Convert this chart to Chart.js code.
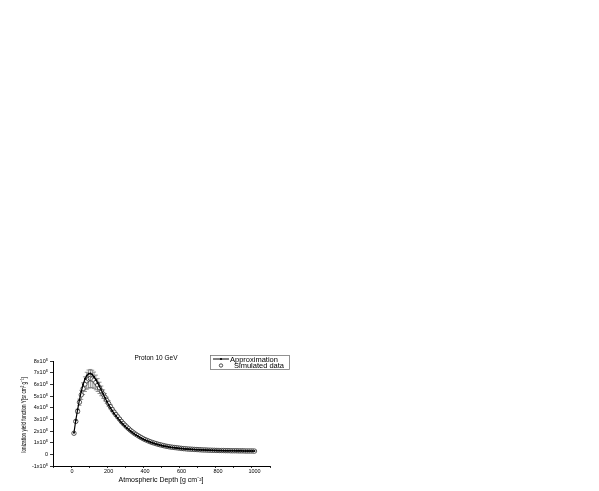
<!DOCTYPE html>
<html><head><meta charset="utf-8">
<script src="https://cdn.jsdelivr.net/npm/chart.js@4/dist/chart.umd.min.js"></script>
<style>html,body{margin:0;padding:0;background:#fff;}#wrap{position:absolute;left:0;top:0;width:599px;height:491px;}</style>
</head><body><div id="wrap"><canvas id="c" width="599" height="491"></canvas></div>
<script>
// Atmospheric depth [g cm^-2]
const depth = [10,20,30,40,50,60,70,80,90,100,110,120,130,140,150,160,170,180,190,200,
210,220,230,240,250,260,270,280,290,300,310,320,330,340,350,360,370,380,390,400,
410,420,430,440,450,460,470,480,490,500,510,520,530,540,550,560,570,580,590,600,
610,620,630,640,650,660,670,680,690,700,710,720,730,740,750,760,770,780,790,800,
810,820,830,840,850,860,870,880,890,900,910,920,930,940,950,960,970,980,990,1000];
// Approximation (units of 1e5)
const approx = [1.70,2.80,3.75,4.60,5.35,5.95,6.45,6.75,6.92,6.95,
6.85,6.65,6.40,6.10,5.80,5.45,5.12,4.80,4.48,4.18,
3.90,3.65,3.40,3.20,3.00,2.80,2.60,2.43,2.27,2.12,
1.98,1.85,1.72,1.60,1.50,1.40,1.30,1.21,1.13,1.05,
0.98,0.92,0.86,0.80,0.75,0.70,0.65,0.61,0.57,0.53,
0.50,0.47,0.44,0.41,0.39,0.37,0.35,0.33,0.31,0.29,
0.28,0.26,0.25,0.24,0.23,0.22,0.21,0.20,0.19,0.18,
0.17,0.17,0.16,0.15,0.15,0.14,0.14,0.13,0.13,0.12,
0.12,0.12,0.11,0.11,0.11,0.10,0.10,0.10,0.10,0.09,
0.09,0.09,0.09,0.08,0.08,0.08,0.08,0.08,0.07,0.07];
// Simulated data (units of 1e5)
const simulated = [1.65,2.70,3.60,4.40,5.05,5.60,6.00,6.30,6.45,6.50,
6.45,6.35,6.15,5.92,5.67,5.40,5.12,4.84,4.56,4.28,
4.00,3.75,3.52,3.30,3.10,2.90,2.70,2.52,2.36,2.20,
2.05,1.91,1.78,1.66,1.55,1.45,1.35,1.26,1.17,1.09,
1.02,0.95,0.89,0.83,0.78,0.73,0.68,0.64,0.60,0.56,
0.52,0.49,0.46,0.43,0.41,0.39,0.37,0.35,0.33,0.31,
0.29,0.28,0.26,0.25,0.24,0.23,0.22,0.21,0.20,0.19,
0.18,0.17,0.17,0.16,0.15,0.15,0.14,0.14,0.13,0.13,
0.12,0.12,0.12,0.11,0.11,0.11,0.10,0.10,0.10,0.10,
0.09,0.09,0.09,0.09,0.08,0.08,0.08,0.08,0.08,0.07];
// Error of simulated data (units of 1e5)
const simError = [0.05,0.10,0.18,0.28,0.40,0.52,0.65,0.75,0.80,0.80,
0.78,0.72,0.65,0.57,0.50,0.43,0.37,0.32,0.28,0.25,
0.20,0.18,0.16,0.15,0.14,0.12,0.11,0.10,0.09,0.08,
0.07,0.07,0.06,0.06,0.05,0.05,0.05,0.04,0.04,0.04,
0.04,0.03,0.03,0.03,0.03,0.03,0.03,0.02,0.02,0.02,
0.02,0.02,0.02,0.02,0.02,0.02,0.02,0.02,0.02,0.02,
0.02,0.02,0.02,0.02,0.02,0.02,0.02,0.02,0.02,0.02,
0.02,0.02,0.02,0.02,0.02,0.02,0.02,0.02,0.02,0.02,
0.02,0.02,0.02,0.02,0.02,0.02,0.02,0.02,0.02,0.02,
0.02,0.02,0.02,0.02,0.02,0.02,0.02,0.02,0.02,0.02];
const yTickLabels = {'-1':'-1x10⁵','0':'0','1':'1x10⁵','2':'2x10⁵','3':'3x10⁵','4':'4x10⁵','5':'5x10⁵','6':'6x10⁵','7':'7x10⁵','8':'8x10⁵'};
const xLabelTicks = [0,200,400,600,800,1000];
const titleText = 'Proton 10 GeV';
const xTitle = 'Atmospheric Depth [g cm⁻²]';
const yTitle = 'Ionization yield function Y[sr cm² g⁻¹]';
const seriesNames = ['Approximation','Simulated data'];

const SCALE = 1e5;
const approxPts = depth.map((d,i)=>({x:d,y:approx[i]*SCALE}));
const simPts = depth.map((d,i)=>({x:d,y:simulated[i]*SCALE}));
const FONT = '"Liberation Sans", Arial, sans-serif';

const errorBars = {
  id:'errorBars',
  beforeDatasetsDraw(chart){
    const ctx=chart.ctx, xs=chart.scales.x, ys=chart.scales.y;
    ctx.save();
    ctx.strokeStyle='#777'; ctx.lineWidth=0.8;
    depth.forEach((d,i)=>{
      const px=xs.getPixelForValue(d);
      const lo=ys.getPixelForValue((simulated[i]-simError[i])*SCALE);
      const hi=ys.getPixelForValue((simulated[i]+simError[i])*SCALE);
      ctx.beginPath();
      ctx.moveTo(px,lo);ctx.lineTo(px,hi);
      ctx.moveTo(px-2,lo);ctx.lineTo(px+2,lo);
      ctx.moveTo(px-2,hi);ctx.lineTo(px+2,hi);
      ctx.stroke();
    });
    ctx.restore();
  }
};

const decorations = {
  id:'decorations',
  afterDraw(chart){
    const ctx=chart.ctx, xs=chart.scales.x;
    ctx.save();
    ctx.fillStyle='#000';
    // x tick labels
    ctx.font='5.5px '+FONT; ctx.textAlign='center'; ctx.textBaseline='top';
    xLabelTicks.forEach(v=>{ctx.fillText(String(v),xs.getPixelForValue(v),xs.top+3);});
    ctx.textBaseline='middle';
    // title
    ctx.font='6.5px '+FONT;
    ctx.fillText(titleText,156,358);
    // x title
    ctx.font='7px '+FONT;
    ctx.fillText(xTitle,161,480);
    // y title (condensed)
    ctx.save();
    ctx.translate(23.5,415);
    ctx.rotate(-Math.PI/2);
    ctx.scale(0.62,1);
    ctx.font='7.5px '+FONT;
    ctx.fillText(yTitle,0,0);
    ctx.restore();
    // legend
    ctx.strokeStyle='#777'; ctx.lineWidth=0.8;
    ctx.strokeRect(210.5,355.5,79,14);
    ctx.strokeStyle='#000'; ctx.lineWidth=1;
    ctx.beginPath();ctx.moveTo(213,359);ctx.lineTo(229,359);ctx.stroke();
    ctx.beginPath();ctx.arc(221,359,1.1,0,Math.PI*2);ctx.fill();
    ctx.lineWidth=0.7;
    ctx.beginPath();ctx.arc(221,365.5,1.7,0,Math.PI*2);ctx.stroke();
    ctx.font='7.5px '+FONT; ctx.textAlign='left';
    ctx.fillText(seriesNames[0],230,359.5);
    ctx.fillText(seriesNames[1],234,366);
    ctx.restore();
  }
};

new Chart(document.getElementById('c'),{
  type:'scatter',
  data:{datasets:[
    {label:seriesNames[0],data:approxPts,showLine:true,borderColor:'#000',backgroundColor:'#000',borderWidth:1.2,pointRadius:1,pointBorderWidth:0,tension:0},
    {label:seriesNames[1],data:simPts,showLine:false,borderColor:'#222',backgroundColor:'#fff',pointRadius:2.2,pointBorderWidth:0.75}
  ]},
  options:{
    responsive:false,animation:false,devicePixelRatio:1,
    layout:{padding:{left:0,top:361,right:329,bottom:0}},
    plugins:{legend:{display:false},title:{display:false},tooltip:{enabled:false}},
    scales:{
      x:{type:'linear',min:-105,max:1085,
        afterFit(s){s.height=25;},
        grid:{display:true,drawOnChartArea:false,drawTicks:true,tickLength:2,color:'#000',lineWidth:0.8},
        border:{display:true,color:'#000',width:1},
        ticks:{stepSize:100,includeBounds:false,autoSkip:false,maxRotation:0,padding:1,color:'#000',font:{size:5.5,family:FONT},
          callback:()=>''}
      },
      y:{type:'linear',min:-125000,max:805000,
        afterFit(s){s.width=53;},
        grid:{display:true,drawOnChartArea:false,drawTicks:true,tickLength:3,color:'#000',lineWidth:0.8},
        border:{display:true,color:'#000',width:1},
        ticks:{stepSize:100000,includeBounds:false,autoSkip:false,padding:2,color:'#000',font:{size:5.5,family:FONT},
          callback:(v)=>{const k=String(Math.round(v/SCALE));return yTickLabels[k]!==undefined?yTickLabels[k]:'';}}
      }
    }
  },
  plugins:[errorBars,decorations]
});
</script></body></html>
